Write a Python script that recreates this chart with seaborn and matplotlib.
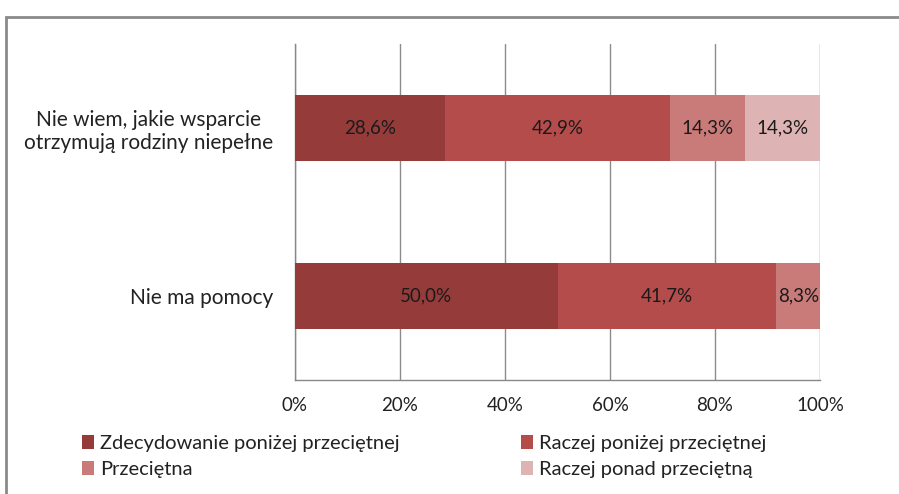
import matplotlib
matplotlib.use("Agg")
import matplotlib.pyplot as plt
import seaborn as sns
import pandas as pd
import numpy as np
from matplotlib.patches import Rectangle, Patch

categories = ["Nie wiem, jakie wsparcie\notrzymują rodziny niepełne", "Nie ma pomocy"]
series = ["Zdecydowanie poniżej przeciętnej", "Raczej poniżej przeciętnej",
          "Przeciętna", "Raczej ponad przeciętną"]
values = {
    "Zdecydowanie poniżej przeciętnej": [28.6, 50.0],
    "Raczej poniżej przeciętnej": [42.9, 41.7],
    "Przeciętna": [14.3, 8.3],
    "Raczej ponad przeciętną": [14.3, 0.0],
}
colors = ["#953C3B", "#B34C4A", "#C97B7A", "#DDB3B3"]
xticks = [0, 20, 40, 60, 80, 100]
xticklabels = ["0%", "20%", "40%", "60%", "80%", "100%"]

sns.set_style("white")
plt.rcParams['font.family'] = ['Lato', 'DejaVu Sans']

fig = plt.figure(figsize=(8.99, 4.94), dpi=100)
ax = fig.add_axes([295/899, 1-380/494, (820-295)/899, (380-44)/494])

vals = np.array([values[s] for s in series])
cum = np.cumsum(vals, axis=0)
cum = np.minimum(cum, 100.0)

# draw cumulative bars from largest to smallest so they stack visually
for i in range(len(series) - 1, -1, -1):
    df = pd.DataFrame({"cat": categories, "x": cum[i]})
    sns.barplot(data=df, x="x", y="cat", orient="h", color=colors[i],
                width=0.39, saturation=1, ax=ax, zorder=3, linewidth=0)

# labels
for i in range(len(series)):
    for j in range(len(categories)):
        v = vals[i, j]
        if v <= 0:
            continue
        start = cum[i, j] - v
        ax.text(start + v / 2, j, f"{v:.1f}%".replace(".", ","),
                ha="center", va="center", fontsize=13.5, color="#1a1a1a", zorder=5)

ax.set_xlim(0, 100)
ax.set_ylim(1.5, -0.5)
ax.set_xticks(xticks)
ax.set_xticklabels(xticklabels, fontsize=13.5, color="#222")
ax.set_xlabel("")
ax.set_ylabel("")
ax.set_yticks([0, 1])
ax.set_yticklabels(categories, fontsize=15, color="#222", multialignment="center")
ax.set_yticks([-0.5, 0.5, 1.5], minor=True)
ax.tick_params(axis="y", which="major", length=0, pad=16)
ax.tick_params(axis="y", which="minor", length=6, color="#888", direction="out")
ax.tick_params(axis="x", length=6, color="#888", direction="out", pad=6)

ax.grid(axis="x", color="#8c8c8c", linewidth=1, zorder=0)
ax.set_axisbelow(True)
for s in ["top", "right"]:
    ax.spines[s].set_visible(False)
for s in ["left", "bottom"]:
    ax.spines[s].set_color("#888")
    ax.spines[s].set_linewidth(1)

# outer frame
fig.patches.append(Rectangle((6/899, -0.05), 1.0, 1 - 17/494 + 0.05,
                             transform=fig.transFigure, fill=False,
                             edgecolor="#8a8a8a", linewidth=2, zorder=0))

# legend filled row-wise like the reference
order = [0, 2, 1, 3]
handles = [Patch(facecolor=colors[k], edgecolor="none") for k in order]
labels = [series[k] for k in order]
fig.legend(handles, labels, loc="upper left", bbox_to_anchor=(68/899, 1-421/494),
           ncol=2, frameon=False, fontsize=14.5, handlelength=0.6, handleheight=0.7,
           handletextpad=0.3, columnspacing=6.0, labelspacing=0.45,
           borderpad=0.2, labelcolor="#222")

fig.savefig("out.png", dpi=100)
